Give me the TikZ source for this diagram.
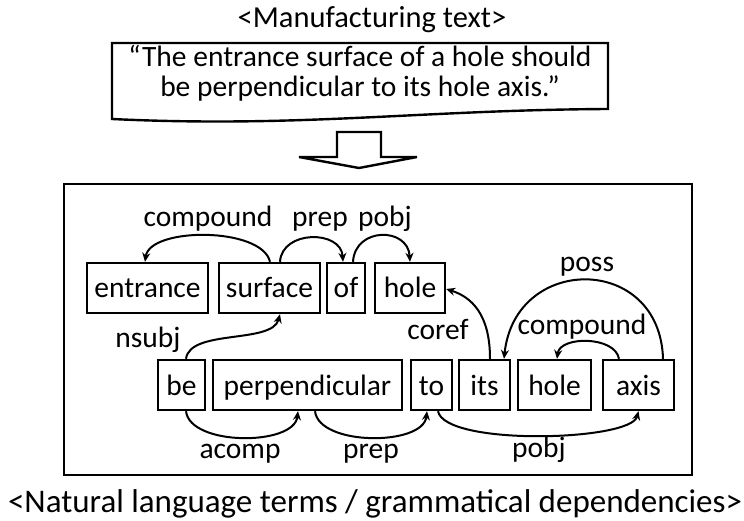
\documentclass[tikz,border=0pt]{standalone}
\usepackage{fontspec}
\setmainfont{Carlito}
\usetikzlibrary{arrows.meta,calc}
\begin{document}
\begin{tikzpicture}[x=1pt,y=-1pt,
  word/.style={draw, line width=2.4pt, inner sep=0pt, font=\fontsize{29.5}{32}\selectfont,
    text height=22pt, text depth=2pt, minimum height=50pt},
  lbl/.style={font=\fontsize{29.5}{32}\selectfont, inner sep=0pt, anchor=base},
  dep/.style={line width=2pt, -{Stealth[length=9pt,width=8pt]}},
  frame/.style={line width=2.4pt}]
\useasboundingbox (0,0) rectangle (744,521);
% top title
\node[font=\fontsize{30.5}{34}\selectfont, inner sep=0pt, anchor=base] (title) at (372,28) {<Manufacturing text>};
% document shape
\draw[frame] (112,119) -- (112,43) -- (608,43) -- (608,109)
  .. controls (420,110) and (300,128) .. (112,119) -- cycle;
\node[font=\fontsize{29.5}{30}\selectfont, inner sep=0pt, anchor=base] (sentA) at (360,67)
  {“The entrance surface of a hole should};
\node[font=\fontsize{29.5}{30}\selectfont, inner sep=0pt, anchor=base] (sentB) at (360,97)
  {be perpendicular to its hole axis.”};
% block arrow
\draw[frame, line join=miter] (337,132) -- (381,132) -- (381,157) -- (417,157) -- (359,168)
  -- (299,157) -- (337,157) -- cycle;
% frame
\draw[frame] (64,184) rectangle (692,475);
% bottom caption
\node[font=\fontsize{33}{36}\selectfont, inner sep=0pt, anchor=base] (caption) at (375,512)
  {<Natural language terms / grammatical dependencies>};
% row 1
\node[word, minimum width=121pt] (entrance) at (147.5,288) {entrance};
\node[word, minimum width=101pt] (surface) at (269.5,288) {surface};
\node[word, minimum width=38pt] (of) at (346,288) {of};
\node[word, minimum width=70pt] (holeA) at (410,288) {hole};
% row 2
\node[word, minimum width=47pt] (be) at (181.5,385) {be};
\node[word, minimum width=189pt] (perp) at (307.5,385) {perpendicular};
\node[word, minimum width=41pt] (to) at (431.5,385) {to};
\node[word, minimum width=51pt] (its) at (484.5,385) {its};
\node[word, minimum width=73pt] (holeB) at (554.5,385) {hole};
\node[word, minimum width=71pt] (axis) at (638.5,385) {axis};
% labels
\node[lbl] (lcompA) at (208,227) {compound};
\node[lbl] (lprepA) at (320,227) {prep};
\node[lbl] (lpobjA) at (385,227) {pobj};
\node[lbl] (lnsubj) at (148,347) {nsubj};
\node[lbl] (lcoref) at (438,339) {coref};
\node[lbl] (lposs) at (587,272) {poss};
\node[lbl] (lcompB) at (582,334) {compound};
\node[lbl] (lacomp) at (240,458) {acomp};
\node[lbl] (lprepB) at (371,458) {prep};
\node[lbl] (lpobjB) at (539,457) {pobj};
% dependencies row 1
\draw[dep] ([xshift=0.5pt]surface.north) .. controls +(-8,-35) and +(5,-35) .. ([xshift=-2.5pt]entrance.north);
\draw[dep] ([xshift=10.5pt]surface.north) .. controls +(2,-32) and +(-2,-32) .. ([xshift=-3pt]of.north);
\draw[dep] ([xshift=7pt]of.north) .. controls +(2,-35) and +(-2,-35) .. (holeA.north);
% nsubj
\draw[dep] ([xshift=4.5pt]be.north) .. controls +(4,-30) and +(-8,30) .. ([xshift=10.5pt]surface.south);
% coref
\draw[dep] ([xshift=5.5pt]its.north) .. controls +(0,-45) and +(25,8) .. ([yshift=-1pt]holeA.east);
% poss
\draw[dep] ([xshift=24.5pt]axis.north) .. controls +(-3,-105) and +(11,-105) .. ([xshift=19.5pt]its.north);
% compound 2
\draw[dep] ([xshift=-19.5pt]axis.north) .. controls +(-4,-23) and +(3,-23) .. ([xshift=2.5pt]holeB.north);
% bottom arcs
\draw[dep] ([xshift=4.5pt]be.south) .. controls +(4,35) and +(-4,35) .. ([xshift=-9.5pt]perp.south);
\draw[dep] ([xshift=7.5pt]perp.south) .. controls +(4,35) and +(-4,35) .. ([xshift=-4.5pt]to.south);
\draw[dep] ([xshift=6.5pt]to.south) .. controls +(7,35) and +(-8,30) .. (axis.south);
\end{tikzpicture}
\end{document}
